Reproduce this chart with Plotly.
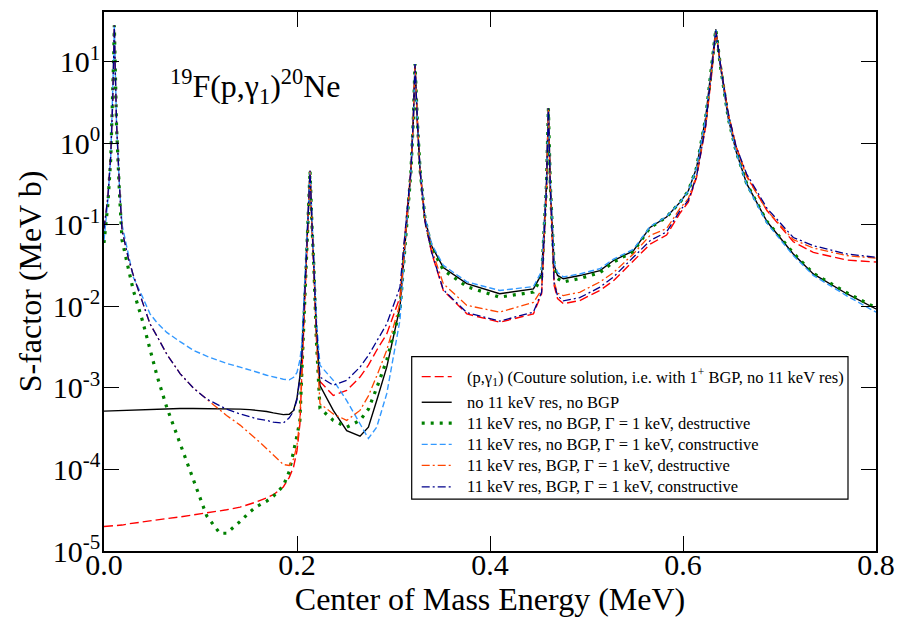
import plotly.graph_objects as go

# Center of mass energy (MeV) grid shared by all curves
energy = [0.000, 0.004, 0.007, 0.009, 0.010, 0.0107, 0.0115, 0.013, 0.016, 0.0187,
          0.025, 0.0304, 0.040, 0.0477, 0.055, 0.065, 0.0788, 0.0925, 0.1064, 0.120,
          0.127, 0.141, 0.151, 0.158, 0.1686, 0.1755, 0.1858, 0.192, 0.1965, 0.200,
          0.203, 0.205, 0.2085, 0.2115, 0.2135, 0.2155, 0.2175, 0.2200, 0.2238, 0.2376,
          0.2515, 0.2653, 0.274, 0.2826, 0.293, 0.3067, 0.313, 0.318, 0.3205, 0.3223,
          0.3247, 0.3275, 0.3326, 0.3396, 0.3516, 0.376, 0.410, 0.445, 0.4535, 0.4585,
          0.4605, 0.4625, 0.4665, 0.470, 0.476, 0.493, 0.514, 0.528, 0.5485, 0.5658,
          0.583, 0.597, 0.6055, 0.614, 0.6235, 0.6297, 0.634, 0.639, 0.647, 0.655,
          0.666, 0.687, 0.7143, 0.735, 0.7697, 0.800]

s_couture = [2.0e-5, 2.01e-5, 2.02e-5, 2.03e-5, 2.03e-5, 2.04e-5, 2.04e-5, 2.05e-5, 2.06e-5, 2.08e-5,
             2.15e-5, 2.2e-5, 2.28e-5, 2.34e-5, 2.4e-5, 2.5e-5, 2.62e-5, 2.76e-5, 2.92e-5, 3.1e-5,
             3.2e-5, 3.45e-5, 3.75e-5, 4.0e-5, 4.5e-5, 4.9e-5, 6.1e-5, 8.0e-5, 1.08e-4, 1.7e-4,
             3.6e-4, 1.4e-3, 0.016, 0.12, 0.46, 0.1, 0.03, 5.0e-3, 1.2e-3, 8.1e-4,
             9.3e-4, 1.36e-3, 1.9e-3, 2.9e-3, 4.6e-3, 0.013, 0.11, 0.46, 1.9, 9.4,
             1.9, 0.46, 0.11, 0.045, 0.0157, 8.1e-3, 6.4e-3, 8.1e-3, 0.0143, 0.28,
             2.7, 0.28, 0.018, 0.0125, 0.0108, 0.0118, 0.0157, 0.0207, 0.036, 0.058,
             0.075, 0.14, 0.19, 0.38, 1.6, 7.0, 24, 9.0, 2.3, 0.92,
             0.4, 0.15, 0.062, 0.046, 0.037, 0.035]

s_no_res_no_bgp = [5.2e-4, 5.22e-4, 5.24e-4, 5.25e-4, 5.26e-4, 5.26e-4, 5.27e-4, 5.28e-4, 5.3e-4, 5.32e-4,
                   5.38e-4, 5.42e-4, 5.48e-4, 5.52e-4, 5.55e-4, 5.58e-4, 5.6e-4, 5.6e-4, 5.6e-4, 5.58e-4,
                   5.56e-4, 5.5e-4, 5.42e-4, 5.35e-4, 5.15e-4, 4.95e-4, 4.7e-4, 4.75e-4, 5.3e-4, 7.5e-4,
                   1.4e-3, 2.5e-3, 0.018, 0.125, 0.46, 0.1, 0.033, 5.0e-3, 1.07e-3, 5.3e-4,
                   3.0e-4, 2.56e-4, 3.3e-4, 7.0e-4, 1.8e-3, 9.8e-3, 0.09, 0.44, 1.9, 9.4,
                   1.9, 0.48, 0.12, 0.055, 0.030, 0.019, 0.0143, 0.0164, 0.025, 0.32,
                   2.7, 0.32, 0.032, 0.024, 0.0218, 0.0239, 0.0275, 0.0365, 0.048, 0.093,
                   0.125, 0.19, 0.26, 0.5, 2.07, 8.5, 25, 8.5, 2.0, 0.8,
                   0.32, 0.11, 0.044, 0.025, 0.0143, 0.0093]

s_res_nobgp_destr = [0.06, 0.18, 0.65, 2.9, 11, 28, 9, 1.6, 0.25, 0.065,
                     0.03, 0.0157, 6.6e-3, 2.9e-3, 1.4e-3, 5.8e-4, 2.08e-4, 7.4e-5, 2.7e-5, 1.65e-5,
                     1.65e-5, 2.3e-5, 3.0e-5, 3.5e-5, 4.1e-5, 4.7e-5, 6.3e-5, 9.5e-5, 1.6e-4, 2.6e-4,
                     4.0e-4, 1.4e-3, 0.016, 0.12, 0.46, 0.1, 0.03, 4.0e-3, 5.6e-4, 4.0e-4,
                     3.3e-4, 4.0e-4, 5.5e-4, 1.0e-3, 2.2e-3, 8.9e-3, 0.09, 0.44, 1.9, 9.4,
                     1.9, 0.48, 0.12, 0.052, 0.028, 0.0175, 0.013, 0.015, 0.023, 0.31,
                     2.7, 0.31, 0.03, 0.022, 0.020, 0.022, 0.026, 0.035, 0.047, 0.092,
                     0.125, 0.19, 0.26, 0.5, 2.07, 8.5, 25, 8.5, 2.0, 0.8,
                     0.32, 0.11, 0.045, 0.0255, 0.0147, 0.0096]

s_res_nobgp_constr = [0.065, 0.2, 0.7, 3.0, 11, 28, 9, 1.7, 0.3, 0.1,
                      0.045, 0.0228, 0.013, 8.1e-3, 6.3e-3, 4.8e-3, 3.7e-3, 2.9e-3, 2.45e-3, 2.15e-3,
                      2.0e-3, 1.8e-3, 1.67e-3, 1.57e-3, 1.43e-3, 1.36e-3, 1.28e-3, 1.26e-3, 1.35e-3, 1.55e-3,
                      2.2e-3, 3.5e-3, 0.02, 0.13, 0.46, 0.11, 0.036, 7.0e-3, 1.9e-3, 1.24e-3,
                      7.0e-4, 3.66e-4, 2.4e-4, 3.3e-4, 8.5e-4, 6.8e-3, 0.085, 0.43, 1.9, 9.4,
                      1.9, 0.5, 0.125, 0.058, 0.032, 0.020, 0.0157, 0.0175, 0.027, 0.33,
                      2.7, 0.33, 0.034, 0.026, 0.023, 0.025, 0.029, 0.038, 0.05, 0.095,
                      0.127, 0.19, 0.26, 0.5, 2.07, 8.5, 25, 8.5, 2.0, 0.78,
                      0.31, 0.105, 0.042, 0.024, 0.0135, 0.0085]

s_res_bgp_destr = [0.09, 0.22, 0.72, 3.1, 11.5, 28, 9.5, 1.8, 0.3, 0.085,
                   0.04, 0.024, 0.0112, 6.1e-3, 4.3e-3, 2.6e-3, 1.5e-3, 1.0e-3, 7.3e-4, 5.4e-4,
                   4.6e-4, 3.5e-4, 2.8e-4, 2.35e-4, 1.8e-4, 1.5e-4, 1.15e-4, 1.12e-4, 1.35e-4, 2.0e-4,
                   4.2e-4, 1.5e-3, 0.016, 0.12, 0.46, 0.1, 0.03, 4.0e-3, 6.4e-4, 4.8e-4,
                   4.0e-4, 5.3e-4, 8.0e-4, 1.4e-3, 2.9e-3, 0.0108, 0.1, 0.45, 1.9, 9.4,
                   1.9, 0.47, 0.115, 0.05, 0.019, 0.0103, 8.5e-3, 0.0112, 0.016, 0.29,
                   2.7, 0.29, 0.02, 0.0145, 0.0136, 0.0149, 0.02, 0.026, 0.044, 0.074,
                   0.09, 0.16, 0.21, 0.4, 1.7, 7.5, 24, 9.0, 2.25, 0.9,
                   0.39, 0.15, 0.066, 0.052, 0.042, 0.039]

s_res_bgp_constr = [0.09, 0.22, 0.72, 3.1, 11.5, 28, 9.5, 1.8, 0.3, 0.085,
                    0.04, 0.024, 0.0112, 6.1e-3, 4.3e-3, 2.6e-3, 1.5e-3, 1.0e-3, 7.3e-4, 6.0e-4,
                    5.5e-4, 4.8e-4, 4.4e-4, 4.2e-4, 4.0e-4, 3.8e-4, 3.7e-4, 4.3e-4, 5.2e-4, 7.2e-4,
                    1.3e-3, 2.4e-3, 0.018, 0.125, 0.46, 0.105, 0.034, 6.0e-3, 1.36e-3, 1.08e-3,
                    1.24e-3, 1.8e-3, 2.5e-3, 3.8e-3, 6.1e-3, 0.0172, 0.12, 0.47, 1.9, 9.4,
                    1.9, 0.46, 0.11, 0.046, 0.016, 8.4e-3, 6.6e-3, 8.5e-3, 0.015, 0.28,
                    2.7, 0.28, 0.019, 0.0135, 0.0117, 0.0128, 0.0172, 0.023, 0.040, 0.064,
                    0.082, 0.15, 0.2, 0.39, 1.65, 7.2, 24, 9.0, 2.3, 0.92,
                    0.42, 0.16, 0.07, 0.0556, 0.044, 0.040]

series_names = [
    "(p,γ<sub>1</sub>) (Couture solution, i.e. with 1<sup>+</sup> BGP, no 11 keV res)",
    "no 11 keV res, no BGP",
    "11 keV res, no BGP, Γ = 1 keV, destructive",
    "11 keV res, no BGP, Γ = 1 keV, constructive",
    "11 keV res, BGP, Γ = 1 keV, destructive",
    "11 keV res, BGP, Γ = 1 keV, constructive",
]
series_values = [s_couture, s_no_res_no_bgp, s_res_nobgp_destr,
                 s_res_nobgp_constr, s_res_bgp_destr, s_res_bgp_constr]

x_tick_vals = [0.0, 0.2, 0.4, 0.6, 0.8]
x_tick_text = ["0.0", "0.2", "0.4", "0.6", "0.8"]
x_minor_vals = [0.1, 0.3, 0.5, 0.7]
y_decades = [-5, -4, -3, -2, -1, 0, 1]
y_tick_vals = [10.0 ** d for d in y_decades]
y_tick_text = ["10<sup>%d</sup>" % d for d in y_decades]
y_minor_vals = [m * 10.0 ** d for d in y_decades for m in range(2, 10)]

styles = [
    dict(color="#FF0000", width=1.4, dash="9px,4px"),
    dict(color="#000000", width=1.4, dash="solid"),
    dict(color="#008000", width=3.2, dash="3px,6px"),
    dict(color="#3399FF", width=1.4, dash="6px,3px"),
    dict(color="#FF4500", width=1.3, dash="8px,3px,2px,3px"),
    dict(color="#00008B", width=1.3, dash="8px,3px,2px,3px"),
]

SERIF = "Liberation Serif"

# plot area in page pixels (page body adds an 8px offset)
PLOT_L, PLOT_R, PLOT_T, PLOT_B = 104, 876, 10, 551


def px_to_paper_x(px):
    return (px - PLOT_L) / (PLOT_R - PLOT_L)


def px_to_paper_y(py):
    return (PLOT_B - py) / (PLOT_B - PLOT_T)


# legend layout (page pixels)
legend_box = (411.7, 356, 848, 499)
legend_rows = [376, 401.7, 422.7, 444, 465, 486.7]
legend_key = (421.7, 451.7)
legend_text_x = 465

fig = go.Figure()
for name, vals, st in zip(series_names, series_values, styles):
    fig.add_trace(go.Scatter(x=energy, y=vals, mode="lines", name=name, line=st,
                             showlegend=False))

fig.update_layout(
    width=916, height=627,
    margin=dict(l=96, r=48, t=2, b=84),
    paper_bgcolor="white", plot_bgcolor="white",
    font=dict(family=SERIF, color="black"),
    showlegend=False,
)

fig.update_layout(
    xaxis=dict(
        range=[0, 0.8], showgrid=False, zeroline=False,
        showline=True, linecolor="black", linewidth=1.5, mirror="ticks",
        ticks="inside", ticklen=15, tickwidth=1.3, tickcolor="black",
        tickvals=x_tick_vals, ticktext=x_tick_text,
        tickfont=dict(family=SERIF, size=30), ticklabelstandoff=-14,
        title=dict(text="Center of Mass Energy (MeV)", font=dict(family=SERIF, size=32), standoff=0),
    ),
    yaxis=dict(
        type="log", range=[-5, 1.611], showgrid=False, zeroline=False,
        showline=True, linecolor="black", linewidth=1.5, mirror="ticks",
        ticks="inside", ticklen=15, tickwidth=1.3, tickcolor="black",
        tickvals=y_tick_vals, ticktext=y_tick_text,
        tickfont=dict(family=SERIF, size=30), ticklabelstandoff=-4,
        title=dict(text="S-factor (MeV b)", font=dict(family=SERIF, size=32), standoff=2),
    ),
    xaxis2=dict(
        overlaying="x", anchor="y", range=[0, 0.8], showgrid=False, zeroline=False,
        showline=False, mirror="ticks", ticks="inside", ticklen=7, tickwidth=1.3,
        tickcolor="black", tickvals=x_minor_vals, showticklabels=False,
    ),
    yaxis2=dict(
        overlaying="y", anchor="x", type="log", range=[-5, 1.611], showgrid=False,
        zeroline=False, showline=False, mirror="ticks", ticks="inside", ticklen=7,
        tickwidth=1.3, tickcolor="black", tickvals=y_minor_vals, showticklabels=False,
    ),
)

# legend drawn as a framed box with key lines and labels
fig.add_shape(type="rect", xref="paper", yref="paper",
              x0=px_to_paper_x(legend_box[0]), x1=px_to_paper_x(legend_box[2]),
              y0=px_to_paper_y(legend_box[3]), y1=px_to_paper_y(legend_box[1]),
              line=dict(color="black", width=1.2), fillcolor="white", layer="above")
for name, st, row in zip(series_names, styles, legend_rows):
    yp = px_to_paper_y(row)
    fig.add_shape(type="line", xref="paper", yref="paper",
                  x0=px_to_paper_x(legend_key[0]), x1=px_to_paper_x(legend_key[1]),
                  y0=yp, y1=yp, line=st, layer="above")
    fig.add_annotation(text=name, xref="paper", yref="paper",
                       x=px_to_paper_x(legend_text_x), y=yp,
                       xanchor="left", yanchor="middle", showarrow=False,
                       font=dict(family=SERIF, size=16.5, color="black"))

fig.add_annotation(
    text="<sup>19</sup>F(p,γ<sub>1</sub>)<sup>20</sup>Ne",
    xref="paper", yref="paper", x=0.083, y=0.862, xanchor="left", yanchor="middle",
    showarrow=False, font=dict(family=SERIF, size=32, color="black"),
)

fig.write_html("out.html")
